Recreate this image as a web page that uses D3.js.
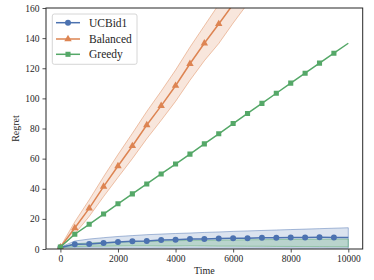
<!DOCTYPE html>
<html>
<head>
<meta charset="utf-8">
<script src="https://cdn.jsdelivr.net/npm/d3@7"></script>
<style>
  html, body { margin: 0; padding: 0; background: #fff; }
  svg text { font-family: "Liberation Serif", "DejaVu Serif", serif; fill: #262626; }
</style>
</head>
<body>
<svg id="chart" width="374" height="280"></svg>
<script>
// ---- data ----
const times = [0,500,1000,1500,2000,2500,3000,3500,4000,4500,5000,5500,6000,6500,7000,7500,8000,8500,9000,9500,10000];
const seriesNames = ["UCBid1", "Balanced", "Greedy"];

const ucbMean = [1.0,3.1,3.3,4.0,4.6,5.1,5.3,6.0,6.2,6.6,6.6,6.9,7.1,7.1,7.5,7.5,7.6,7.7,7.8,7.7,7.6];
const ucbLow  = [0.9,0.7,0.6,0.6,0.5,0.6,0.5,0.6,0.5,0.6,0.6,0.5,0.6,0.5,0.6,0.5,0.6,0.5,0.6,0.5,0.6];
const ucbHigh = [1.2,5.3,6.6,7.5,8.3,8.9,9.5,9.9,10.3,10.6,11.0,11.3,11.7,12.0,12.3,12.6,12.9,13.2,13.5,13.8,14.1];

const balMean = [1.2,13.9,27.0,41.4,55.1,68.4,82.3,95.0,108.4,123.0,136.6,149.4,162.5,175.8,189.0,202.0,215.0,228.0,241.0,254.0,267.0];
const balLow  = [0.9,10.0,21.6,34.8,47.5,60.0,73.2,85.4,98.0,112.0,125.0,136.4,150.0,162.8,176.0,189.0,202.0,215.0,228.0,241.0,254.0];
const balHigh = [1.5,18.0,32.6,48.0,62.7,76.8,91.3,104.8,118.8,134.0,148.2,162.4,175.0,188.8,202.0,215.0,228.0,241.0,254.0,267.0,280.0];

const greedyMean = [1.3,9.8,16.4,23.2,30.0,36.6,43.2,49.8,56.4,63.0,69.8,76.5,83.3,90.0,96.7,103.4,110.1,116.7,123.4,130.0,136.6];
const greenBandLow  = [1.0,1.6,1.8,1.9,2.0,2.1,2.1,2.0,2.0,2.1,2.0,1.9,1.9,1.8,1.8,1.7,1.7,1.6,1.6,1.5,1.5];
const greenBandHigh = [1.2,3.5,4.0,4.3,4.6,4.9,5.0,5.3,5.5,5.7,5.8,5.9,6.0,6.1,6.2,6.3,6.4,6.4,6.5,6.5,6.6];

const xTicks = [0,2000,4000,6000,8000,10000];
const yTicks = [0,20,40,60,80,100,120,140,160];

// ---- layout ----
const svg = d3.select("#chart");
const L = 46, R = 362.7, T = 8, B = 249;
const x = d3.scaleLinear().domain([-500, 10500]).range([L, R]);
const y = d3.scaleLinear().domain([0, 160]).range([B, T]);

const colors = { UCBid1: "#4C72B0", Balanced: "#DD8452", Greedy: "#55A868" };

svg.append("defs").append("clipPath").attr("id", "clip")
  .append("rect").attr("x", L).attr("y", T).attr("width", R - L).attr("height", B - T);

const plot = svg.append("g").attr("clip-path", "url(#clip)");

const area = (lo, hi) => d3.area()
  .x((d, i) => x(times[i])).y0((d, i) => y(lo[i])).y1((d, i) => y(hi[i]))(times);
const lineOf = (arr) => d3.line().x((d, i) => x(times[i])).y((d, i) => y(arr[i]))(times);

function band(lo, hi, color, op) {
  plot.append("path").attr("d", area(lo, hi))
    .attr("fill", color).attr("fill-opacity", op)
    .attr("stroke", color).attr("stroke-opacity", 0.6).attr("stroke-width", 0.8);
}
band(ucbLow, ucbHigh, colors.UCBid1, 0.2);
band(balLow, balHigh, colors.Balanced, 0.2);
band(greenBandLow, greenBandHigh, colors.Greedy, 0.25);

const markerIdx = d3.range(0, 20);

function symbolPath(name) {
  const t = name === "UCBid1" ? d3.symbolCircle : name === "Balanced" ? d3.symbolTriangle : d3.symbolSquare;
  const size = name === "Balanced" ? 24 : name === "Greedy" ? 26 : 28;
  return d3.symbol().type(t).size(size)();
}

function series(name, arr) {
  const c = colors[name];
  plot.append("path").attr("d", lineOf(arr)).attr("fill", "none")
    .attr("stroke", c).attr("stroke-width", 1.5);
  plot.selectAll(null).data(markerIdx).enter().append("path")
    .attr("d", symbolPath(name))
    .attr("transform", i => `translate(${x(times[i])},${y(arr[i])})`)
    .attr("fill", c);
}
series("UCBid1", ucbMean);
series("Balanced", balMean);
series("Greedy", greedyMean);

// ---- axes ----
const axisColor = "#262626";
const xAxis = svg.append("g").attr("transform", `translate(0,${B})`)
  .call(d3.axisBottom(x).tickValues(xTicks).tickSize(3.5).tickPadding(3).tickFormat(d3.format("d")));
const yAxis = svg.append("g").attr("transform", `translate(${L},0)`)
  .call(d3.axisLeft(y).tickValues(yTicks).tickSize(3.5).tickPadding(3).tickFormat(d3.format("d")));
[xAxis, yAxis].forEach(g => {
  g.select(".domain").remove();
  g.selectAll("line").attr("stroke", axisColor).attr("stroke-width", 0.8);
  g.selectAll("text").attr("font-size", 9.5).attr("font-family", "Liberation Serif").attr("fill", axisColor);
});

svg.append("rect").attr("x", L).attr("y", T).attr("width", R - L).attr("height", B - T)
  .attr("fill", "none").attr("stroke", axisColor).attr("stroke-width", 1);

svg.append("text").attr("x", (L + R) / 2).attr("y", 274).attr("text-anchor", "middle")
  .attr("font-size", 10).text("Time");
svg.append("text").attr("transform", `translate(19,${(T + B) / 2}) rotate(-90)`)
  .attr("text-anchor", "middle").attr("font-size", 10).text("Regret");

// ---- legend ----
const lg = svg.append("g");
lg.append("rect").attr("x", 52.3).attr("y", 14).attr("width", 84.7).attr("height", 50.3)
  .attr("rx", 2).attr("fill", "#fff").attr("fill-opacity", 0.8)
  .attr("stroke", "#cccccc").attr("stroke-width", 0.8);
const rowY = [22.7, 39, 54.3];
seriesNames.forEach((name, i) => {
  const c = colors[name];
  lg.append("line").attr("x1", 56).attr("x2", 80).attr("y1", rowY[i]).attr("y2", rowY[i])
    .attr("stroke", c).attr("stroke-width", 1.5);
  lg.append("path").attr("d", symbolPath(name))
    .attr("transform", `translate(68,${rowY[i]})`).attr("fill", c);
  lg.append("text").attr("x", 89).attr("y", rowY[i] + 3.8).attr("font-size", 11.5).text(name);
});
</script>
</body>
</html>
